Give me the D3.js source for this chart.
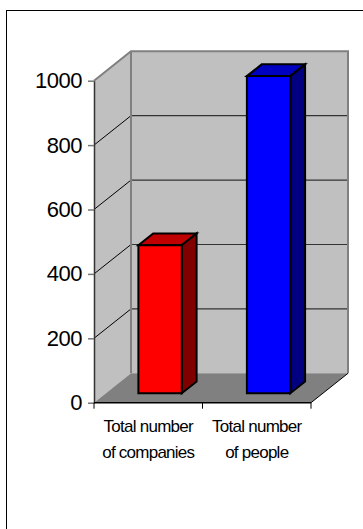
<!DOCTYPE html>
<html>
<head>
<meta charset="utf-8">
<script src="https://cdn.jsdelivr.net/npm/d3@7"></script>
<style>
  body { margin: 0; background: #fff; }
  text { font-family: "Liberation Sans", Arial, sans-serif; }
</style>
</head>
<body>
<div id="chart-area"></div>
<script>
// chart data
var categories = ["Total number of companies", "Total number of people"]
var labelLines = [["Total number", "of companies"], ["Total number", "of people"]]
var values = [460, 985]
var yTicks = [0, 200, 400, 600, 800, 1000]
var frontColors = ["#ff0000", "#0000ff"]
var topColors = ["#c00000", "#0000c0"]
var sideColors = ["#800000", "#000080"]

var width = 363, height = 529

// front plane of the 3d box
var plotLeft = 94, plotRight = 311, plotTop = 80.7, plotBottom = 402.7
// depth offset of the back wall
var depthX = 37, depthY = -29.4
// bar sits between these depth fractions
var barFront = 0.32, barBack = 0.72

var svg = d3.select("#chart-area").append("svg")
    .attr("width", width)
    .attr("height", height)

// outer frame (only top and left edges are inside the picture)
svg.append("rect")
  .attr("x", 6.5)
  .attr("y", 10.5)
  .attr("width", 400)
  .attr("height", 600)
  .attr("fill", "#fff")
  .attr("stroke", "#000")
  .attr("stroke-width", 1)

var x = d3.scaleBand()
  .domain(categories)
  .range([plotLeft, plotRight])

var y = d3.scaleLinear()
  .domain([0, 1000])
  .range([plotBottom, plotTop])

// project a front-plane point to a given depth fraction
function pt(px, py, f) {
  return [px + f * depthX, py + f * depthY]
}
function poly(points) {
  return points.map(function(p) { return p.join(",") }).join(" ")
}

// left wall
svg.append("polygon")
  .attr("points", poly([pt(plotLeft, y(1000), 0), pt(plotLeft, y(1000), 1), pt(plotLeft, y(0), 1), pt(plotLeft, y(0), 0)]))
  .attr("fill", "#c0c0c0")

// back wall
svg.append("polygon")
  .attr("points", poly([pt(plotLeft, y(1000), 1), pt(plotRight, y(1000), 1), pt(plotRight, y(0), 1), pt(plotLeft, y(0), 1)]))
  .attr("fill", "#c0c0c0")

// gridlines on back wall and left wall
yTicks.filter(function(d) { return d > 0 && d < 1000 }).forEach(function(d) {
  var a = pt(plotLeft, y(d), 1), b = pt(plotRight, y(d), 1), c = pt(plotLeft, y(d), 0)
  svg.append("line")
    .attr("x1", a[0]).attr("y1", a[1]).attr("x2", b[0]).attr("y2", b[1])
    .attr("stroke", "#333").attr("stroke-width", 1.2)
  svg.append("line")
    .attr("x1", c[0]).attr("y1", c[1]).attr("x2", a[0]).attr("y2", a[1])
    .attr("stroke", "#000").attr("stroke-width", 1)
})

// wall edges
var wallEdge = [pt(plotLeft, y(1000), 0), pt(plotLeft, y(1000), 1), pt(plotRight, y(1000), 1), pt(plotRight, y(0), 1)]
svg.append("polyline")
  .attr("points", poly(wallEdge))
  .attr("fill", "none")
  .attr("stroke", "#808080")
  .attr("stroke-width", 2)
svg.append("line")
  .attr("x1", pt(plotLeft, 0, 1)[0]).attr("x2", pt(plotLeft, 0, 1)[0])
  .attr("y1", pt(plotLeft, y(1000), 1)[1]).attr("y2", pt(plotLeft, y(0), 1)[1])
  .attr("stroke", "#808080")
  .attr("stroke-width", 2)

// floor
svg.append("polygon")
  .attr("points", poly([pt(plotLeft, y(0), 0), pt(plotRight, y(0), 0), pt(plotRight, y(0), 1), pt(plotLeft, y(0), 1)]))
  .attr("fill", "#808080")
svg.append("line")
  .attr("x1", pt(plotRight, y(0), 0)[0]).attr("y1", pt(plotRight, y(0), 0)[1])
  .attr("x2", pt(plotRight, y(0), 1)[0]).attr("y2", pt(plotRight, y(0), 1)[1])
  .attr("stroke", "#000").attr("stroke-width", 1)

// bars
var barW = x.bandwidth() * 0.4
var bars = svg.selectAll("g.bar")
  .data(values)
  .enter().append("g")
    .attr("class", "bar")

bars.each(function(v, i) {
  var g = d3.select(this)
  var x0 = x(categories[i]) + (x.bandwidth() - barW) / 2
  var x1 = x0 + barW
  var yt = y(v), yb = y(0)
  // top
  g.append("polygon")
    .attr("points", poly([pt(x0, yt, barFront), pt(x1, yt, barFront), pt(x1, yt, barBack), pt(x0, yt, barBack)]))
    .attr("fill", topColors[i])
  // side
  g.append("polygon")
    .attr("points", poly([pt(x1, yt, barFront), pt(x1, yt, barBack), pt(x1, yb, barBack), pt(x1, yb, barFront)]))
    .attr("fill", sideColors[i])
  // front
  g.append("polygon")
    .attr("points", poly([pt(x0, yt, barFront), pt(x1, yt, barFront), pt(x1, yb, barFront), pt(x0, yb, barFront)]))
    .attr("fill", frontColors[i])
  g.selectAll("polygon")
    .attr("stroke", "#000")
    .attr("stroke-width", 2)
    .attr("stroke-linejoin", "miter")
})

// y axis
var yAxisCall = d3.axisLeft(y)
  .tickValues(yTicks)
  .tickFormat(d3.format("d"))
  .tickSize(6)
  .tickSizeOuter(0)
  .tickPadding(6)

var yAxis = svg.append("g")
  .attr("class", "y axis")
  .attr("transform", "translate(" + plotLeft + ",0)")
  .call(yAxisCall)
yAxis.select(".domain").attr("stroke", "#333").attr("stroke-width", 1.5)
yAxis.selectAll(".tick line").attr("stroke", "#777").attr("stroke-width", 1.5)
yAxis.selectAll("text")
  .attr("font-size", "22px")
  .attr("letter-spacing", "-0.5")
  .attr("fill", "#000")
  .attr("font-family", "Liberation Sans, Arial, sans-serif")

// x axis: line, boundary ticks, two-line labels
svg.append("line")
  .attr("x1", plotLeft).attr("x2", plotRight)
  .attr("y1", y(0)).attr("y2", y(0))
  .attr("stroke", "#000").attr("stroke-width", 1.5)

var bounds = categories.map(function(c) { return x(c) }).concat([plotRight])
svg.selectAll("line.xtick")
  .data(bounds)
  .enter().append("line")
    .attr("class", "xtick")
    .attr("x1", function(d) { return d }).attr("x2", function(d) { return d })
    .attr("y1", y(0)).attr("y2", y(0) + 6)
    .attr("stroke", "#000").attr("stroke-width", 1)

var labels = svg.selectAll("text.xlabel")
  .data(categories)
  .enter().append("text")
    .attr("class", "xlabel")
    .attr("text-anchor", "middle")
    .attr("font-size", "17px")
    .attr("letter-spacing", "-0.75")
    .attr("fill", "#000")

labels.each(function(c, i) {
  var t = d3.select(this)
  labelLines[i].forEach(function(line, j) {
    t.append("tspan")
      .attr("x", x(c) + x.bandwidth() / 2)
      .attr("y", y(0) + 29.5 + j * 25.3)
      .text(line)
  })
})
</script>
</body>
</html>
